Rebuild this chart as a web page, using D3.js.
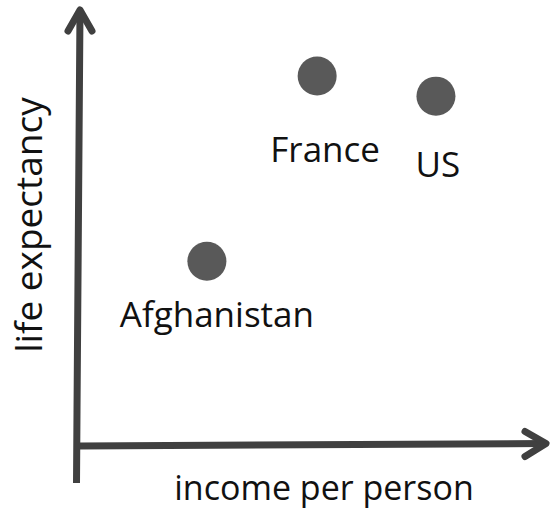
<!DOCTYPE html>
<html>
<head>
<meta charset="utf-8">
<script src="https://cdn.jsdelivr.net/npm/d3@7"></script>
<style>
  html, body { margin: 0; padding: 0; background: #fff; }
  svg { display: block; }
  text { font-family: "Open Sans", "DejaVu Sans", sans-serif; fill: #111; }
</style>
</head>
<body>
<svg id="chart" width="551" height="514"></svg>
<script>
// Countries plotted on a schematic income / life-expectancy plane (relative units, 0–100)
const countries = ["Afghanistan", "France", "US"];
const income = [28.2, 52.7, 79.1];
const lifeExpectancy = [44.0, 88.1, 83.3];
// Where each country's name sits relative to its dot (px)
const labelDx = [10, 8, 2];
const labelDy = [66, 86, 81];

const axisTitles = { x: "income per person", y: "life expectancy" };

const svg = d3.select("#chart");

const x = d3.scaleLinear().domain([0, 100]).range([80, 530]);
const y = d3.scaleLinear().domain([0, 100]).range([446, 26]);

const axisColor = "#404040";
const dotColor = "#595959";
const stroke = 7;

const line = d3.line();

// Hand-drawn style axes with open arrowheads
const x0 = x.range()[0], y0 = y.range()[0];
const axes = svg.append("g")
  .attr("fill", "none")
  .attr("stroke", axisColor)
  .attr("stroke-width", stroke)
  .attr("stroke-linecap", "round")
  .attr("stroke-linejoin", "round");

// vertical axis: runs a little below the origin and leans slightly
const vTip = [80, 10];
axes.append("path")
  .attr("stroke-linecap", "butt")
  .attr("d", line([[x0 - 3.5, y0 + 37], [x0 - 3, y0 - 34], vTip]));
axes.append("path")
  .attr("d", line([[vTip[0] - 12, vTip[1] + 21], vTip, [vTip[0] + 12, vTip[1] + 21]]));

// horizontal axis
const hTip = [546, 443.5];
axes.append("path")
  .attr("stroke-linecap", "butt")
  .attr("d", line([[x0, y0], hTip]));
axes.append("path")
  .attr("d", line([[hTip[0] - 21, hTip[1] - 12], hTip, [hTip[0] - 21, hTip[1] + 13]]));

// dots
svg.append("g").selectAll("circle")
  .data(countries)
  .join("circle")
  .attr("cx", (d, i) => x(income[i]))
  .attr("cy", (d, i) => y(lifeExpectancy[i]))
  .attr("r", 19.5)
  .attr("fill", dotColor);

// country names
svg.append("g").selectAll("text")
  .data(countries)
  .join("text")
  .attr("x", (d, i) => x(income[i]) + labelDx[i])
  .attr("y", (d, i) => y(lifeExpectancy[i]) + labelDy[i])
  .attr("text-anchor", "middle")
  .attr("font-size", 35)
  .text(d => d);

// axis titles
svg.append("text")
  .attr("x", 324)
  .attr("y", 500)
  .attr("text-anchor", "middle")
  .attr("font-size", 34)
  .text(axisTitles.x);

svg.append("text")
  .attr("transform", "translate(42,225) rotate(-90)")
  .attr("text-anchor", "middle")
  .attr("font-size", 37)
  .text(axisTitles.y);
</script>
</body>
</html>
